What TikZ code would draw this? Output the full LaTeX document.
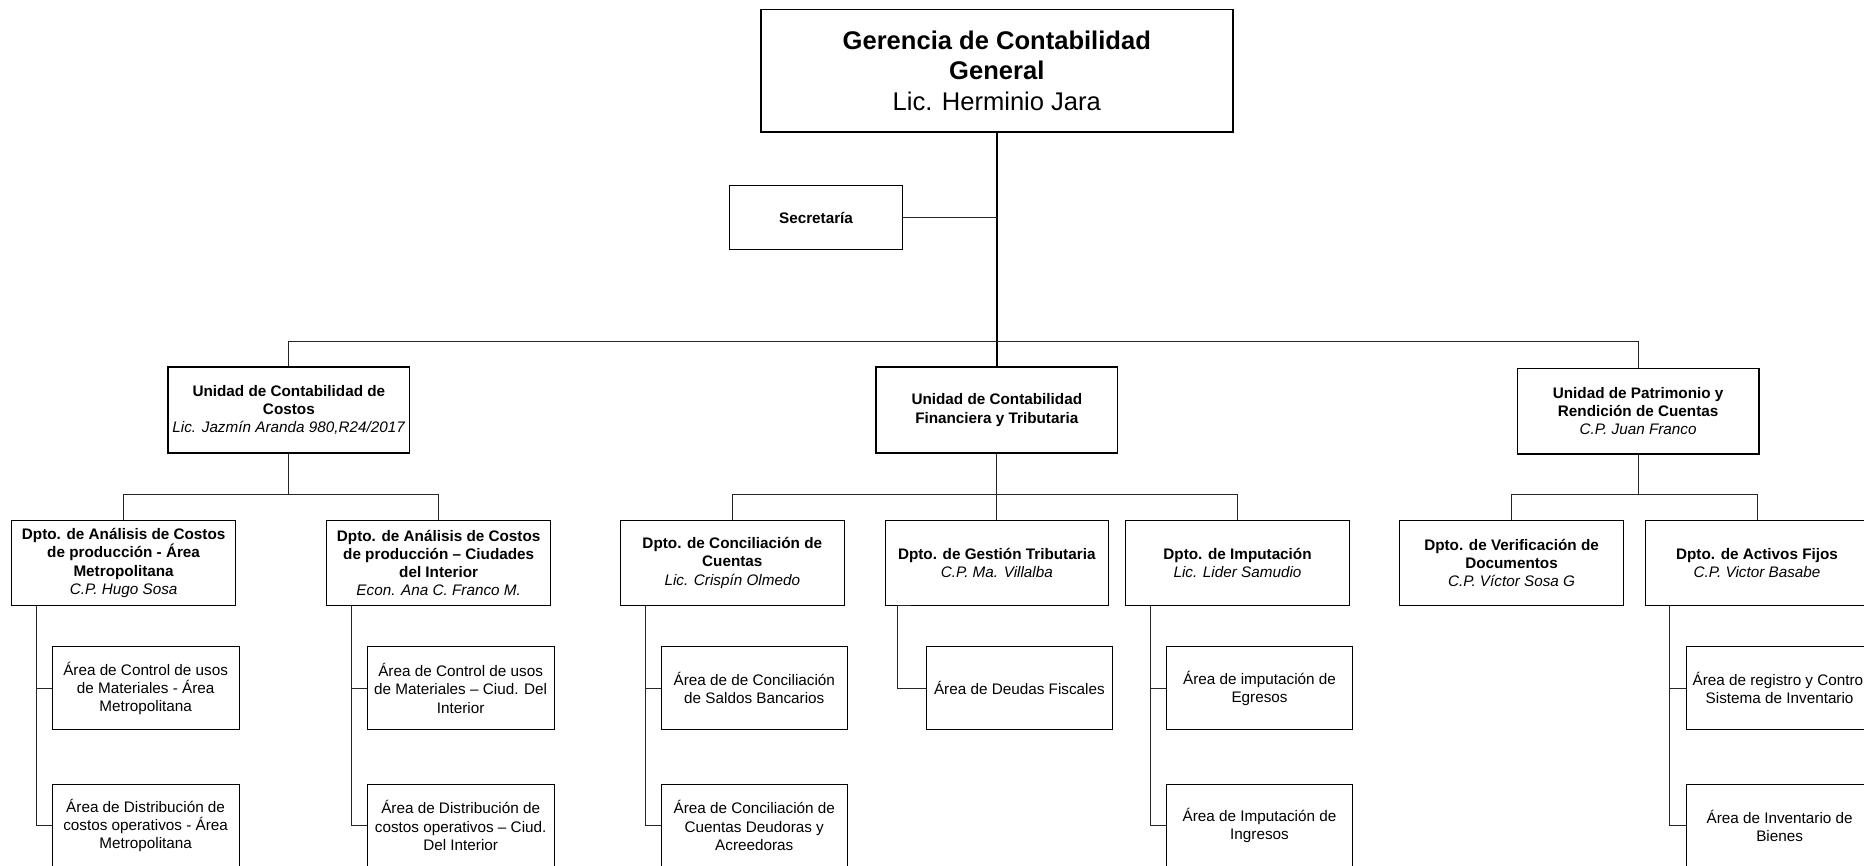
\documentclass[tikz,border=0pt]{standalone}
\usepackage{fontspec}
\setmainfont{Liberation Sans}
\usetikzlibrary{calc}
\begin{document}
\begin{tikzpicture}[x=1pt,y=-1pt,
  boxbase/.style={draw=black, rectangle, inner sep=0pt, align=center, font=\fontsize{12.85}{15.3}\selectfont},
  topbox/.style={boxbase, line width=1.5pt, minimum width=397pt, minimum height=103pt, font=\fontsize{21.5}{25.5}\selectfont},
  secbox/.style={boxbase, line width=0.75pt, minimum width=145pt, minimum height=54pt},
  unitbox/.style={boxbase, line width=1.5pt, minimum width=203pt, minimum height=72pt},
  deptbox/.style={boxbase, line width=0.75pt, minimum width=188pt, minimum height=71pt},
  areabox/.style={boxbase, line width=0.75pt, minimum width=157pt, minimum height=70pt},
  link/.style={draw=black!85, line width=0.75pt},
  trunk/.style={draw=black, line width=1.3pt}
]
\useasboundingbox (0,0) rectangle (1568,728.4);
\clip (0,0) rectangle (1568,728.4);

% top
\node[topbox] (top) at (838.5,59.5) {\textbf{Gerencia de Contabilidad}\\\textbf{General}\\Lic. Herminio Jara};
\node[secbox] (sec) at (686.5,183) {\textbf{Secretaría}};

% units
\node[unitbox] (cunit) at (243,345) {\textbf{Unidad de Contabilidad de}\\\textbf{Costos}\\\textit{Lic. Jazmín Aranda 980,R24/2017}};
\node[unitbox] (funit) at (838.5,345) {\textbf{Unidad de Contabilidad}\\\textbf{Financiera y Tributaria}};
\node[unitbox] (punit) at (1378,346) {\textbf{Unidad de Patrimonio y}\\\textbf{Rendición de Cuentas}\\\textit{C.P. Juan Franco}};

% departments
\node[deptbox] (d1) at (104,473.5) {\textbf{Dpto. de Análisis de Costos}\\\textbf{de producción - Área}\\\textbf{Metropolitana}\\\textit{C.P. Hugo Sosa}};
\node[deptbox] (d2) at (369,473.5) {\textbf{Dpto. de Análisis de Costos}\\\textbf{de producción – Ciudades}\\\textbf{del Interior}\\\textit{Econ. Ana C. Franco M.}};
\node[deptbox] (d3) at (616,473.5) {\textbf{Dpto. de Conciliación de}\\\textbf{Cuentas}\\\textit{Lic. Crispín Olmedo}};
\node[deptbox] (d4) at (838.5,473.5) {\textbf{Dpto. de Gestión Tributaria}\\\textit{C.P. Ma. Villalba}};
\node[deptbox] (d5) at (1041,473.5) {\textbf{Dpto. de Imputación}\\\textit{Lic. Lider Samudio}};
\node[deptbox] (d6) at (1271.5,473.5) {\textbf{Dpto. de Verificación de}\\\textbf{Documentos}\\\textit{C.P. Víctor Sosa G}};
\node[deptbox] (d7) at (1478,473.5) {\textbf{Dpto. de Activos Fijos}\\\textit{C.P. Victor Basabe}};

% areas
\node[areabox] (a1) at (122.5,579) {Área de Control de usos\\de Materiales - Área\\Metropolitana};
\node[areabox] (a2) at (122.5,694.5) {Área de Distribución de\\costos operativos - Área\\Metropolitana};
\node[areabox] (a3) at (387.5,579) {Área de Control de usos\\de Materiales – Ciud. Del\\Interior};
\node[areabox] (a4) at (387.5,694.5) {Área de Distribución de\\costos operativos – Ciud.\\Del Interior};
\node[areabox] (a5) at (634.5,579) {Área de de Conciliación\\de Saldos Bancarios};
\node[areabox] (a6) at (634.5,694.5) {Área de Conciliación de\\Cuentas Deudoras y\\Acreedoras};
\node[areabox] (a7) at (857.5,579) {Área de Deudas Fiscales};
\node[areabox] (a8) at (1059.5,579) {Área de imputación de\\Egresos};
\node[areabox] (a9) at (1059.5,694.5) {Área de Imputación de\\Ingresos};
\node[areabox] (a10) at (1497,579) {Área de registro y Control\\Sistema de Inventario};
\node[areabox] (a11) at (1497,694.5) {Área de Inventario de\\Bienes};

% connectors level 0-1
\coordinate (bar) at (838.5,287);
\draw[trunk] (top.south) -- (funit.north);
\draw[link] (sec.east) -- (sec.east -| top.south);
\draw[link] (cunit.north) -- (cunit.north |- bar) -- (punit.north |- bar) -- (punit.north);

% level 2
\coordinate (b2) at (0,416);
\draw[link] (cunit.south) -- (cunit.south |- b2);
\draw[link] (d1.north) -- (d1.north |- b2) -- (d2.north |- b2) -- (d2.north);
\draw[link] (funit.south) -- (d4.north);
\draw[link] (d3.north) -- (d3.north |- b2) -- (d5.north |- b2) -- (d5.north);
\draw[link] (punit.south) -- (punit.south |- b2);
\draw[link] (d6.north) -- (d6.north |- b2) -- (d7.north |- b2) -- (d7.north);

% level 3
\draw[link] ([xshift=21pt]d1.south west) |- (a1.west);
\draw[link] ([xshift=21pt]d1.south west) |- (a2.west);
\draw[link] ([xshift=21pt]d2.south west) |- (a3.west);
\draw[link] ([xshift=21pt]d2.south west) |- (a4.west);
\draw[link] ([xshift=21pt]d3.south west) |- (a5.west);
\draw[link] ([xshift=21pt]d3.south west) |- (a6.west);
\draw[link] ([xshift=22pt]d4.south west) -- ([xshift=11pt]d4.south west) |- (a7.west);
\draw[link] ([xshift=21pt]d5.south west) |- (a8.west);
\draw[link] ([xshift=21pt]d5.south west) |- (a9.west);
\draw[link] ([xshift=21pt]d7.south west) |- (a10.west);
\draw[link] ([xshift=21pt]d7.south west) |- (a11.west);
\end{tikzpicture}
\end{document}
